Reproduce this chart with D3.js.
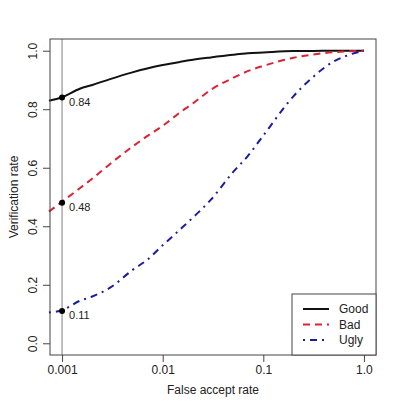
<!DOCTYPE html>
<html>
<head>
<meta charset="utf-8">
<script src="https://cdn.jsdelivr.net/npm/d3@7"></script>
<style>
  body { margin: 0; background: #fff; }
  svg text { font-family: "Liberation Sans", Arial, sans-serif; fill: #222; }
</style>
</head>
<body>
<div id="chart"></div>
<script>
// false accept rates shared by all three curves
const fpr = [0.00074, 0.001, 0.0015, 0.002, 0.003, 0.005, 0.007, 0.01, 0.015, 0.02,
  0.03, 0.05, 0.07, 0.1, 0.2, 0.3, 0.5, 0.7, 1.0]

const good = [0.829, 0.841, 0.870, 0.883, 0.903, 0.926, 0.939, 0.951, 0.962, 0.969,
  0.977, 0.986, 0.991, 0.994, 0.999, 0.999, 1.0, 1.0, 1.0]
const bad = [0.450, 0.484, 0.530, 0.563, 0.613, 0.672, 0.708, 0.743, 0.790, 0.820,
  0.866, 0.907, 0.930, 0.948, 0.976, 0.986, 0.995, 0.998, 1.0]
const ugly = [0.105, 0.113, 0.145, 0.160, 0.190, 0.250, 0.285, 0.335, 0.390, 0.430,
  0.490, 0.585, 0.640, 0.710, 0.845, 0.905, 0.963, 0.985, 1.0]

const seriesNames = ['Good', 'Bad', 'Ugly']
const markerAt = 0.001
const markerValues = [0.84, 0.48, 0.11]
const xTicks = [0.001, 0.01, 0.1, 1.0]
const xTickLabels = ['0.001', '0.01', '0.1', '1.0']
const yTicks = [0, 0.2, 0.4, 0.6, 0.8, 1.0]

const W = 398
const H = 404
const box = {left: 50, right: 376, top: 39, bottom: 355}

const series = [
  {name: seriesNames[0], values: good, color: '#111', dash: null},
  {name: seriesNames[1], values: bad, color: '#dd2233', dash: '7,5'},
  {name: seriesNames[2], values: ugly, color: '#1c1ca0', dash: '2,5,7,5'}
]

const svg = d3.select('#chart').append('svg')
  .attr('width', W)
  .attr('height', H)

// R style 4% padding on each side
const x = d3.scaleLog()
  .domain([0.001 / Math.pow(10, 0.12), 1 * Math.pow(10, 0.12)])
  .range([box.left, box.right])
const y = d3.scaleLinear()
  .domain([-0.04, 1.04])
  .range([box.bottom, box.top])

// reference line at 0.001
svg.append('line')
  .attr('x1', x(markerAt)).attr('x2', x(markerAt))
  .attr('y1', box.top).attr('y2', box.bottom)
  .attr('stroke', '#aaa')
  .attr('stroke-width', 1.5)

const line = d3.line()
  .x((d, i) => x(fpr[i]))
  .y(d => y(d))
  .curve(d3.curveMonotoneX)

svg.append('g').selectAll('path')
  .data(series)
  .join('path')
  .attr('d', d => line(d.values))
  .attr('fill', 'none')
  .attr('stroke', d => d.color)
  .attr('stroke-width', 2)
  .attr('stroke-dasharray', d => d.dash)

// markers at 0.001
const marks = svg.append('g').selectAll('g')
  .data(markerValues)
  .join('g')
marks.append('circle')
  .attr('cx', x(markerAt))
  .attr('cy', d => y(d))
  .attr('r', 3)
  .attr('fill', '#000')
marks.append('text')
  .attr('x', x(markerAt) + 7)
  .attr('y', d => y(d) + 8)
  .attr('font-size', 11)
  .attr('fill', '#333')
  .text(d => d.toFixed(2))

// plot frame
svg.append('rect')
  .attr('x', box.left).attr('y', box.top)
  .attr('width', box.right - box.left)
  .attr('height', box.bottom - box.top)
  .attr('fill', 'none')
  .attr('stroke', '#444')

// axes
const xAxis = d3.axisBottom(x)
  .tickValues(xTicks)
  .tickFormat((d, i) => xTickLabels[i])
  .tickSize(7)
  .tickPadding(3)
svg.append('g')
  .attr('transform', `translate(0,${box.bottom})`)
  .call(xAxis)
  .call(g => g.select('.domain').remove())
  .call(g => g.selectAll('line').attr('stroke', '#444'))
  .call(g => g.selectAll('text').attr('font-size', 12).attr('font-family', null).attr('fill', '#222'))

const yAxis = d3.axisLeft(y)
  .tickValues(yTicks)
  .tickFormat(d3.format('.1f'))
  .tickSize(7)
svg.append('g')
  .attr('transform', `translate(${box.left},0)`)
  .call(yAxis)
  .call(g => g.select('.domain').remove())
  .call(g => g.selectAll('line').attr('stroke', '#444'))
  .call(g => g.selectAll('text')
    .attr('font-size', 12)
    .attr('font-family', null)
    .attr('fill', '#222')
    .attr('x', null).attr('dy', null)
    .attr('text-anchor', 'middle')
    .attr('transform', 'translate(-13,0) rotate(-90)'))

svg.append('text')
  .attr('x', (box.left + box.right) / 2)
  .attr('y', 394)
  .attr('text-anchor', 'middle')
  .attr('font-size', 12)
  .text('False accept rate')

svg.append('text')
  .attr('transform', `translate(18,${(box.top + box.bottom) / 2}) rotate(-90)`)
  .attr('text-anchor', 'middle')
  .attr('font-size', 12)
  .text('Verification rate')

// legend
const lg = {left: 292, top: 294}
svg.append('rect')
  .attr('x', lg.left).attr('y', lg.top)
  .attr('width', box.right - lg.left)
  .attr('height', box.bottom - lg.top)
  .attr('fill', '#fff')
  .attr('stroke', '#444')

const items = svg.append('g').selectAll('g')
  .data(series)
  .join('g')
  .attr('transform', (d, i) => `translate(0,${lg.top + 15 + i * 15.5})`)
items.append('line')
  .attr('x1', 303).attr('x2', 329)
  .attr('stroke', d => d.color)
  .attr('stroke-width', 2)
  .attr('stroke-dasharray', d => d.dash)
items.append('text')
  .attr('x', 339)
  .attr('dy', '0.35em')
  .attr('font-size', 12)
  .text(d => d.name)
</script>
</body>
</html>
